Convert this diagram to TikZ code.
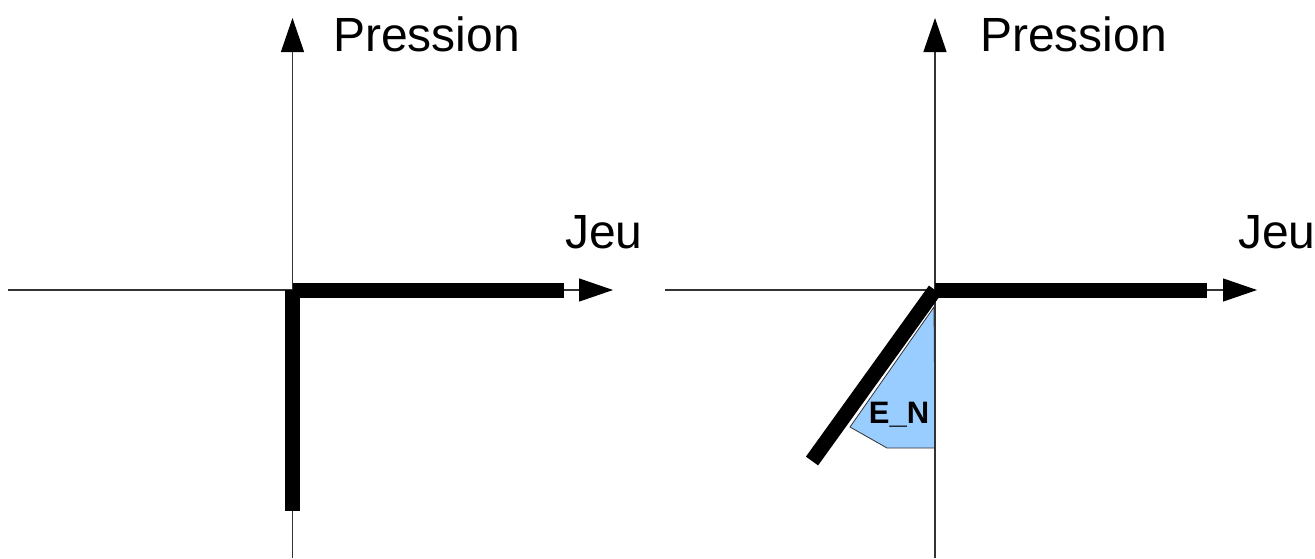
\documentclass[tikz,border=0pt]{standalone}
\usepackage{fontspec}
\setmainfont{Liberation Sans}
\usetikzlibrary{arrows.meta}
\definecolor{enblue}{HTML}{99CCFF}
\begin{document}
\begin{tikzpicture}[x=1pt,y=-1pt,
  axisline/.style={draw=black!80,line width=1.2pt,-{Triangle[length=34pt,width=23pt,black]}},
  thickline/.style={draw=black,line width=15pt,line cap=butt},
  bigtext/.style={inner sep=0pt,anchor=base west,font=\fontsize{48}{56}\selectfont},
  entext/.style={inner sep=0pt,anchor=base,font=\fontsize{31}{36}\selectfont\bfseries}]
\useasboundingbox (0,0) rectangle (1315,558);
% left diagram
\coordinate (lo) at (292.5,290);
\coordinate (lbot) at (292.5,558);
\coordinate (ltop) at (292.5,18);
\coordinate (lleft) at (8,290);
\coordinate (lright) at (613,290);
\coordinate (lh) at (564,290);
\coordinate (lv) at (292.5,511);
\draw[axisline] (lbot) -- (ltop);
\draw[axisline] (lleft) -- (lright);
\draw[thickline] (lo) -- (lh);
\draw[thickline] (lo) -- (lv);
\node[bigtext] (lp) at (333,51) {Pression};
\node[bigtext] (lj) at (565,248) {Jeu};
% right diagram
\coordinate (ro) at (935,290);
\coordinate (rbot) at (935,558);
\coordinate (rtop) at (935,18);
\coordinate (rleft) at (665,290);
\coordinate (rright) at (1257,290);
\coordinate (rh) at (1207,290);
\coordinate (rd) at (812,461);
\fill[enblue,draw=black!80,line width=0.8pt] (934,307) -- (850,427) -- (887,448) -- (935,448) -- cycle;
\draw[axisline] (rbot) -- (rtop);
\draw[axisline] (rleft) -- (rright);
\draw[thickline] (ro) -- (rh);
\draw[thickline] (ro) -- (rd);
\node[bigtext] (rp) at (980,51) {Pression};
\node[bigtext] (rj) at (1238,248) {Jeu};
\node[entext] (en) at (899,423) {E\_N};
\end{tikzpicture}
\end{document}
